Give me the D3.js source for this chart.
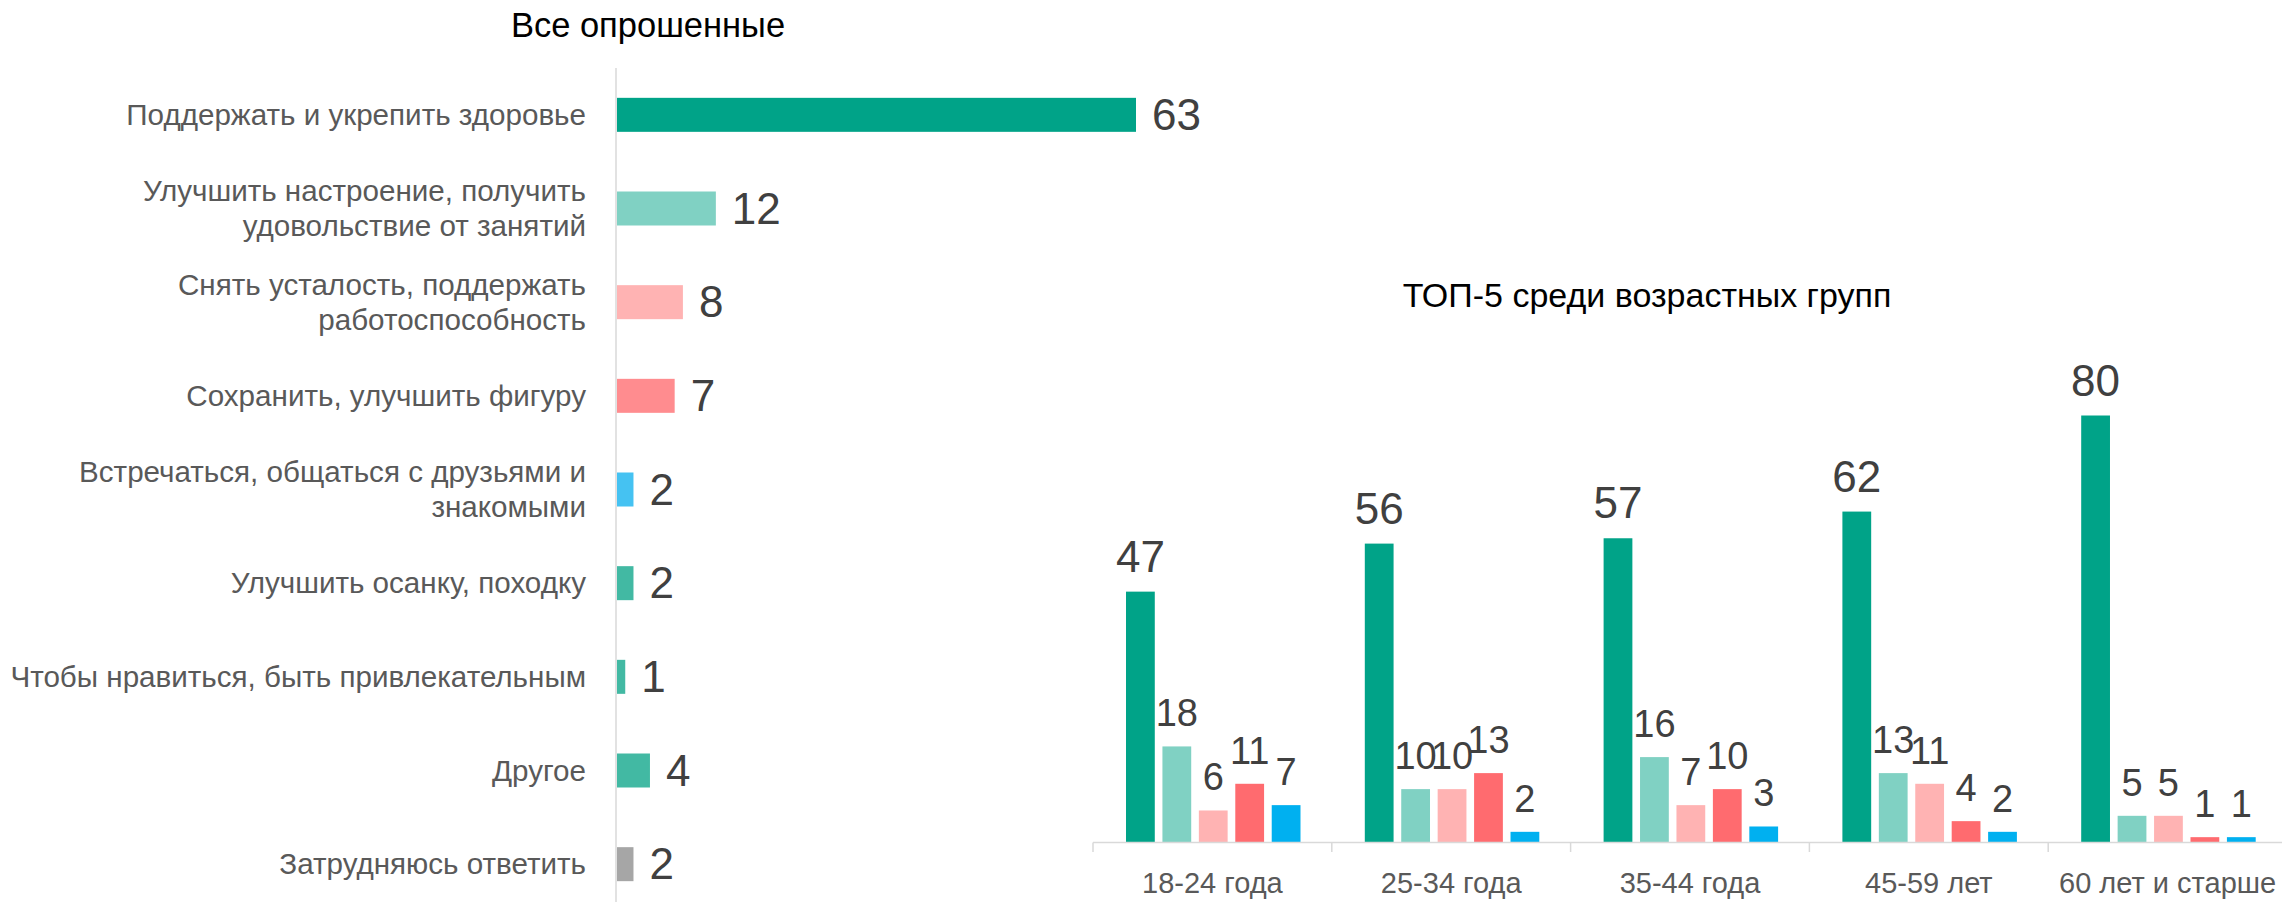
<!DOCTYPE html>
<html>
<head>
<meta charset="utf-8">
<script src="https://cdn.jsdelivr.net/npm/d3@7"></script>
<style>
  html, body { margin: 0; padding: 0; background: #fff; }
  svg { display: block; }
  text { font-family: "Liberation Sans", Arial, sans-serif; }
</style>
</head>
<body>
<svg id="chart" width="2282" height="902"></svg>
<script>
// ---- data: left chart ----
const leftTitle = "Все опрошенные";
const leftCategories = [
  "Поддержать и укрепить здоровье",
  "Улучшить настроение, получить\nудовольствие от занятий",
  "Снять усталость, поддержать\nработоспособность",
  "Сохранить, улучшить фигуру",
  "Встречаться, общаться с друзьями и\nзнакомыми",
  "Улучшить осанку, походку",
  "Чтобы нравиться, быть привлекательным",
  "Другое",
  "Затрудняюсь ответить"
];
const leftValues = [63, 12, 8, 7, 2, 2, 1, 4, 2];
const leftColors = ["#00A388", "#80D1C3", "#FFB3B3", "#FF8C8F", "#45C2F2", "#42B9A3", "#42B9A3", "#42B9A3", "#A6A6A6"];

// ---- data: right chart ----
const rightTitle = "ТОП-5 среди возрастных групп";
const ageGroups = ["18-24 года", "25-34 года", "35-44 года", "45-59 лет", "60 лет и старше"];
const seriesNames = ["Поддержать и укрепить здоровье", "Улучшить настроение", "Снять усталость", "Сохранить фигуру", "Встречаться с друзьями"];
const series1 = [47, 56, 57, 62, 80];
const series2 = [18, 10, 16, 13, 5];
const series3 = [6, 10, 7, 11, 5];
const series4 = [11, 13, 10, 4, 1];
const series5 = [7, 2, 3, 2, 1];
const rightColors = ["#00A388", "#80D1C3", "#FFB3B3", "#FF6B6F", "#00B0F0"];

const svg = d3.select("#chart");
const labelColor = "#595959";
const valueColor = "#404040";
const axisColor = "#D9D9D9";

// ================= LEFT CHART =================
svg.append("text")
  .attr("x", 648).attr("y", 37)
  .attr("text-anchor", "middle")
  .attr("font-size", 34.5).attr("fill", "#000")
  .text(leftTitle);

const yL = d3.scaleBand()
  .domain(leftCategories)
  .range([68, 911])
  .paddingInner(0.637)
  .paddingOuter(0.3185);

const xL = d3.scaleLinear().domain([0, 63]).range([617, 1136]);

const gL = svg.append("g");

gL.selectAll("rect.bar")
  .data(leftCategories)
  .join("rect")
  .attr("class", "bar")
  .attr("x", xL(0))
  .attr("y", d => yL(d))
  .attr("width", (d, i) => xL(leftValues[i]) - xL(0))
  .attr("height", yL.bandwidth())
  .attr("fill", (d, i) => leftColors[i]);

// axis line
gL.append("line")
  .attr("x1", 616).attr("x2", 616)
  .attr("y1", 68).attr("y2", 902)
  .attr("stroke", axisColor).attr("stroke-width", 1.5);

// category labels
gL.selectAll("text.cat")
  .data(leftCategories)
  .join("text")
  .attr("class", "cat")
  .attr("text-anchor", "end")
  .attr("font-size", 29.6)
  .attr("fill", labelColor)
  .each(function(d) {
    const lines = d.split("\n");
    const cy = yL(d) + yL.bandwidth() / 2;
    const lh = 35;
    const t = d3.select(this);
    lines.forEach((ln, k) => {
      t.append("tspan")
        .attr("x", 586)
        .attr("y", cy + (k - (lines.length - 1) / 2) * lh + 10)
        .text(ln);
    });
  });

// value labels
gL.selectAll("text.val")
  .data(leftCategories)
  .join("text")
  .attr("class", "val")
  .attr("x", (d, i) => xL(leftValues[i]) + 16)
  .attr("y", d => yL(d) + yL.bandwidth() / 2 + 15)
  .attr("font-size", 44)
  .attr("fill", valueColor)
  .text((d, i) => leftValues[i]);

// ================= RIGHT CHART =================
svg.append("text")
  .attr("x", 1647).attr("y", 307)
  .attr("text-anchor", "middle")
  .attr("font-size", 34).attr("fill", "#000")
  .text(rightTitle);

const allSeries = [series1, series2, series3, series4, series5];

const x0 = d3.scaleBand().domain(ageGroups).range([1093, 1093 + 5 * 238.8]).padding(0);
const x1 = d3.scaleBand().domain(d3.range(5)).range([33, 207.5]).paddingInner(0.21).paddingOuter(0);
const yR = d3.scaleLinear().domain([0, 80]).range([842.5, 415.5]);

const gR = svg.append("g");

const groups = gR.selectAll("g.grp")
  .data(ageGroups)
  .join("g")
  .attr("class", "grp")
  .attr("transform", d => `translate(${x0(d)},0)`);

groups.each(function(grp, gi) {
  const g = d3.select(this);
  const vals = allSeries.map(s => s[gi]);
  g.selectAll("rect")
    .data(vals)
    .join("rect")
    .attr("x", (v, si) => x1(si))
    .attr("y", v => yR(v))
    .attr("width", x1.bandwidth())
    .attr("height", v => yR(0) - yR(v))
    .attr("fill", (v, si) => rightColors[si]);
  g.selectAll("text.val")
    .data(vals)
    .join("text")
    .attr("class", "val")
    .attr("x", (v, si) => x1(si) + x1.bandwidth() / 2)
    .attr("y", v => yR(v) - 20)
    .attr("text-anchor", "middle")
    .attr("font-size", (v, si) => si === 0 ? 44 : 38)
    .attr("fill", valueColor)
    .text(v => v);
});

// x axis
const xAxis = d3.axisBottom(x0).tickSize(0).tickPadding(0);
const axG = gR.append("g").attr("transform", "translate(0,842.5)").call(xAxis);
axG.select(".domain").remove();
axG.selectAll(".tick text")
  .attr("y", 50)
  .attr("dy", 0)
  .attr("font-size", 29)
  .attr("font-family", "Liberation Sans, Arial, sans-serif")
  .attr("fill", labelColor);

gR.append("line")
  .attr("x1", 1093).attr("x2", 2282)
  .attr("y1", 842.5).attr("y2", 842.5)
  .attr("stroke", axisColor).attr("stroke-width", 1.5);

gR.selectAll("line.sep")
  .data(ageGroups)
  .join("line")
  .attr("class", "sep")
  .attr("x1", d => x0(d)).attr("x2", d => x0(d))
  .attr("y1", 842.5).attr("y2", 852)
  .attr("stroke", axisColor).attr("stroke-width", 1.5);
</script>
</body>
</html>
